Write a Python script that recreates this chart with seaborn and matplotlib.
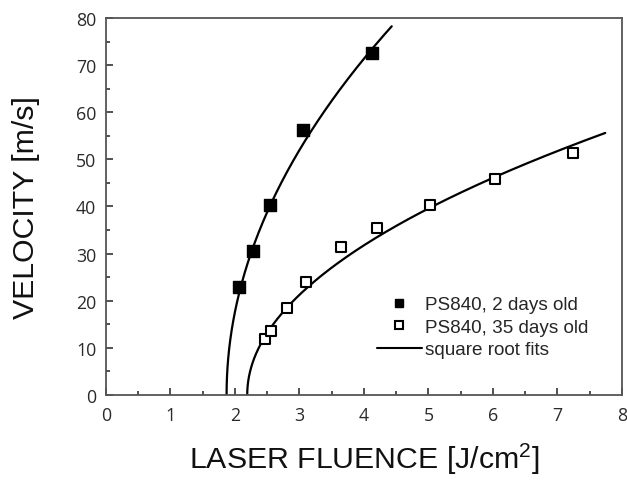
import numpy as np
import pandas as pd
import matplotlib
matplotlib.use("Agg")
import matplotlib.pyplot as plt
import seaborn as sns
from matplotlib.lines import Line2D
from matplotlib.ticker import MultipleLocator

# Data
fluence_2d = [2.07, 2.28, 2.55, 3.05, 4.13]
velocity_2d = [23.0, 30.5, 40.2, 56.3, 72.5]
fluence_35d = [2.47, 2.56, 2.80, 3.10, 3.65, 4.20, 5.02, 6.03, 7.24]
velocity_35d = [11.8, 13.5, 18.5, 24.0, 31.3, 35.5, 40.2, 45.8, 51.3]

# square-root fit parameters v = a*sqrt(F - F0)
fit_2d = {"F0": 1.87, "a": 48.9, "Fmax": 4.43}
fit_35d = {"F0": 2.19, "a": 23.6, "Fmax": 7.74}

labels = ["PS840, 2 days old", "PS840, 35 days old", "square root fits"]

sns.set_theme(style="white")
plt.rcParams['font.family'] = ['Open Sans', 'DejaVu Sans']
plt.rcParams['mathtext.fontset'] = 'custom'
plt.rcParams['mathtext.rm'] = 'Liberation Sans'
plt.rcParams['mathtext.it'] = 'Liberation Sans'

fig = plt.figure(figsize=(6.27, 4.81), dpi=100)
ax = fig.add_axes([0.169, 0.177, 0.823, 0.7835])

def fit_curve(p):
    F = p["F0"] + (p["Fmax"] - p["F0"]) * np.linspace(0, 1, 400) ** 2
    v = p["a"] * np.sqrt(F - p["F0"])
    return pd.DataFrame({"F": F, "v": v})

for p in (fit_2d, fit_35d):
    d = fit_curve(p)
    sns.lineplot(data=d, x="F", y="v", ax=ax, color="black", lw=1.6,
                 sort=False, estimator=None)

df1 = pd.DataFrame({"F": fluence_2d, "v": velocity_2d})
df2 = pd.DataFrame({"F": fluence_35d, "v": velocity_35d})
sns.scatterplot(data=df1, x="F", y="v", ax=ax, marker="s", s=68,
                color="black", edgecolor="black", linewidth=1, zorder=5)
sns.scatterplot(data=df2, x="F", y="v", ax=ax, marker="s", s=55,
                facecolor="white", edgecolor="black", linewidth=1.5, zorder=5)

ax.set_xlim(0, 8)
ax.set_ylim(0, 80)
ax.xaxis.set_major_locator(MultipleLocator(1))
ax.xaxis.set_minor_locator(MultipleLocator(0.5))
ax.yaxis.set_major_locator(MultipleLocator(10))
ax.yaxis.set_minor_locator(MultipleLocator(5))
ax.tick_params(which="both", direction="in", top=False, right=False,
               bottom=True, left=True, colors="#333333", labelsize=12.8,
               labelcolor="#2a2a2a")
ax.tick_params(which="major", length=5, width=1.2)
ax.tick_params(which="minor", length=3, width=1.2)
ax.tick_params(axis="x", pad=8)
ax.tick_params(axis="y", pad=7)
for s in ax.spines.values():
    s.set_color("#555555")
    s.set_linewidth(1.3)

ax.set_xlabel("LASER FLUENCE [J/cm$^2$]", fontsize=21.8, family="Liberation Sans",
              color="#111111", labelpad=12)
ax.set_ylabel("VELOCITY [m/s]", fontsize=21.8, family="Liberation Sans",
              color="#111111", labelpad=26)

handles = [
    Line2D([], [], ls="none", marker="s", ms=6, mfc="black", mec="black"),
    Line2D([], [], ls="none", marker="s", ms=5.5, mfc="white", mec="black", mew=1.5),
    Line2D([], [], color="black", lw=1.5),
]
leg = ax.legend(handles, labels, loc="lower right", bbox_to_anchor=(0.96, 0.062),
                frameon=False, prop={"family": "Liberation Sans", "size": 13.6},
                handlelength=2.4, handletextpad=0.15, labelspacing=0.28,
                borderpad=0.2)

fig.savefig("out.png", dpi=100)
